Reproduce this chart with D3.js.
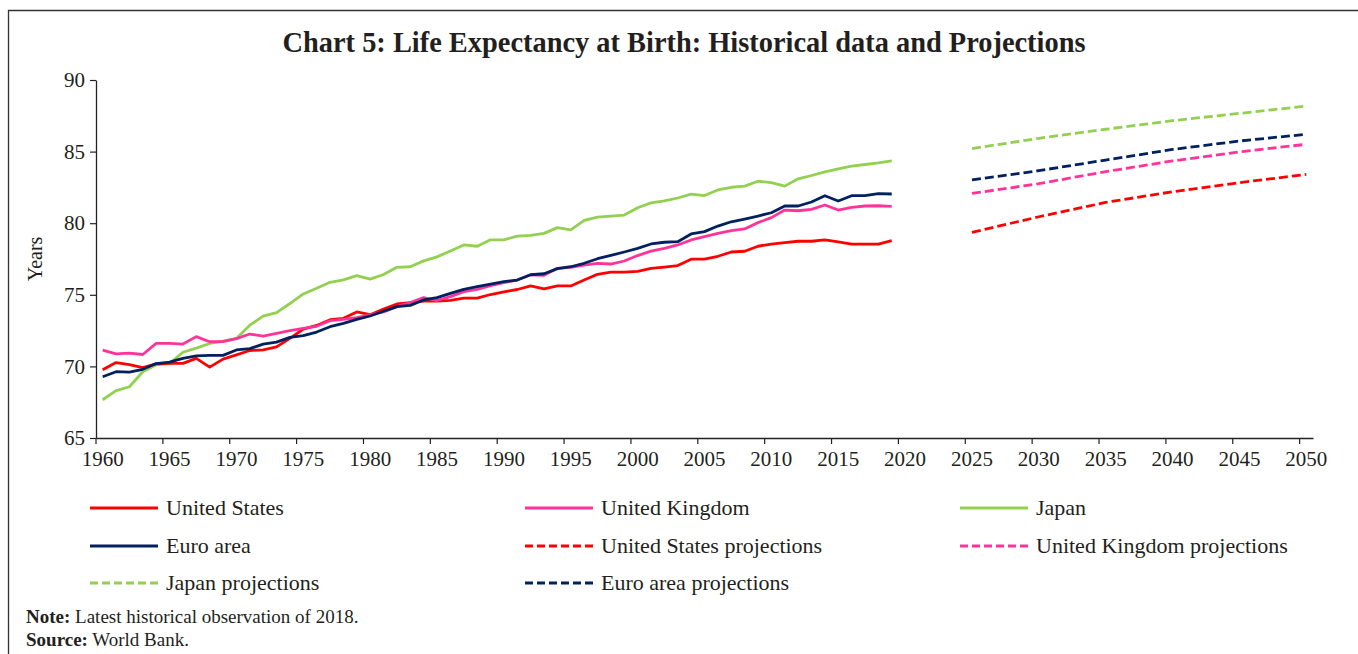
<!DOCTYPE html>
<html>
<head>
<meta charset="utf-8">
<script src="https://cdn.jsdelivr.net/npm/d3@7"></script>
<style>
  body { margin: 0; background: #fff; }
  text { font-family: "Liberation Serif", "Times New Roman", serif; fill: #231f20; }
</style>
</head>
<body>
<script>
// historical years 1960-2019
var years = d3.range(1960, 2020);
var projYears = [2025, 2030, 2035, 2040, 2045, 2050];
var yTicks = [65, 70, 75, 80, 85, 90];

var unitedStates = [69.77,70.27,70.12,69.92,70.17,70.21,70.21,70.56,69.95,70.51,
  70.81,71.11,71.16,71.36,71.96,72.60,72.86,73.26,73.36,73.80,
  73.61,74.01,74.36,74.46,74.56,74.56,74.61,74.77,74.77,75.02,
  75.21,75.37,75.62,75.42,75.62,75.62,76.03,76.43,76.58,76.58,
  76.64,76.84,76.94,77.04,77.49,77.49,77.69,77.99,78.04,78.39,
  78.54,78.64,78.74,78.74,78.84,78.69,78.54,78.54,78.54,78.79];

var unitedKingdom = [71.13,70.88,70.93,70.83,71.61,71.61,71.56,72.08,71.72,71.73,
  71.94,72.26,72.12,72.31,72.50,72.66,72.80,73.19,73.28,73.40,
  73.60,73.80,74.17,74.45,74.80,74.60,74.87,75.22,75.38,75.64,
  75.85,76.03,76.40,76.36,76.85,76.92,77.08,77.20,77.15,77.36,
  77.74,78.05,78.24,78.48,78.83,79.06,79.29,79.48,79.60,80.04,
  80.39,80.92,80.87,80.97,81.27,80.92,81.11,81.20,81.22,81.18];

var japan = [67.67,68.31,68.58,69.63,70.11,70.19,70.99,71.28,71.60,71.76,
  71.95,72.88,73.51,73.76,74.39,75.06,75.46,75.87,76.04,76.34,
  76.09,76.42,76.92,76.96,77.37,77.65,78.06,78.48,78.39,78.84,
  78.84,79.10,79.15,79.29,79.69,79.54,80.20,80.42,80.50,80.57,
  81.08,81.42,81.56,81.76,82.03,81.93,82.32,82.51,82.59,82.93,
  82.84,82.59,83.10,83.33,83.59,83.79,83.98,84.10,84.21,84.36];

var euroArea = [69.28,69.63,69.60,69.80,70.20,70.30,70.56,70.73,70.77,70.77,
  71.15,71.24,71.56,71.70,72.03,72.15,72.40,72.77,73.00,73.28,
  73.52,73.85,74.17,74.26,74.64,74.80,75.10,75.38,75.57,75.75,
  75.92,76.03,76.40,76.47,76.83,76.96,77.20,77.52,77.75,77.99,
  78.24,78.55,78.67,78.71,79.25,79.41,79.80,80.10,80.29,80.50,
  80.73,81.20,81.20,81.48,81.92,81.55,81.92,81.92,82.06,82.04];

var usProj = [79.36, 80.45, 81.45, 82.20, 82.83, 83.41];
var ukProj = [82.08, 82.76, 83.60, 84.35, 84.98, 85.51];
var japanProj = [85.21, 85.93, 86.56, 87.16, 87.67, 88.18];
var euroProj = [83.02, 83.67, 84.41, 85.15, 85.74, 86.21];

var colUS = "#ff0000", colUK = "#ff3399", colJP = "#92d050", colEA = "#002060";

var width = 1358, height = 654;
var plot = {left: 96, right: 1313, top: 80, bottom: 438};

var svg = d3.select("body").append("svg")
  .attr("width", width)
  .attr("height", height);

svg.append("rect").attr("width", width).attr("height", height).attr("fill", "#fff");

// frame (top + left only visible)
svg.append("path")
  .attr("d", "M" + width + ",10.5H8.5V" + height)
  .attr("fill", "none")
  .attr("stroke", "#333")
  .attr("stroke-width", 1.3);

// title
svg.append("text")
  .attr("x", 684)
  .attr("y", 52)
  .attr("text-anchor", "middle")
  .style("font-size", "28.4px")
  .style("font-weight", "bold")
  .text("Chart 5: Life Expectancy at Birth: Historical data and Projections");

// scales
var xScale = d3.scaleBand()
  .domain(d3.range(1960, 2051))
  .range([plot.left, plot.right])
  .padding(0);
var bw = xScale.bandwidth();

var yScale = d3.scaleLinear()
  .domain([65, 90])
  .range([plot.bottom, plot.top]);

// axes
var xAxis = svg.append("g")
  .attr("transform", "translate(0," + plot.bottom + ")")
  .call(d3.axisBottom(xScale)
    .tickValues(d3.range(1960, 2051, 5))
    .tickSize(6)
    .tickSizeOuter(0)
    .tickPadding(7));
xAxis.selectAll(".tick line").attr("x1", -bw / 2).attr("x2", -bw / 2);
xAxis.selectAll(".tick text")
  .style("font-size", "21px")
  .style("font-family", "'Liberation Serif', serif")
  .attr("fill", "#231f20");
xAxis.select(".domain").attr("stroke", "#222").attr("stroke-width", 1.3);
xAxis.selectAll(".tick line").attr("stroke", "#222").attr("stroke-width", 1.2);

var yAxis = svg.append("g")
  .attr("transform", "translate(" + plot.left + ",0)")
  .call(d3.axisLeft(yScale)
    .tickValues(yTicks)
    .tickSize(6)
    .tickSizeOuter(0)
    .tickPadding(5));
yAxis.selectAll(".tick text")
  .style("font-size", "21px")
  .style("font-family", "'Liberation Serif', serif")
  .attr("fill", "#231f20");
yAxis.select(".domain").attr("stroke", "#222").attr("stroke-width", 1.3);
yAxis.selectAll(".tick line").attr("stroke", "#222").attr("stroke-width", 1.2);

svg.append("text")
  .attr("transform", "translate(42," + 259 + ") rotate(-90)")
  .attr("text-anchor", "middle")
  .style("font-size", "20px")
  .text("Years");

// lines
var line = d3.line()
  .x(function(d) { return xScale(d[0]) + bw / 2; })
  .y(function(d) { return yScale(d[1]); });

function zipped(xs, vs) {
  return xs.map(function(x, i) { return [x, vs[i]]; });
}

var series = [
  {name: "United States", color: colUS, dash: false, x: years, v: unitedStates},
  {name: "United Kingdom", color: colUK, dash: false, x: years, v: unitedKingdom},
  {name: "Japan", color: colJP, dash: false, x: years, v: japan},
  {name: "Euro area", color: colEA, dash: false, x: years, v: euroArea},
  {name: "United States projections", color: colUS, dash: true, x: projYears, v: usProj},
  {name: "United Kingdom projections", color: colUK, dash: true, x: projYears, v: ukProj},
  {name: "Japan projections", color: colJP, dash: true, x: projYears, v: japanProj},
  {name: "Euro area projections", color: colEA, dash: true, x: projYears, v: euroProj}
];

// draw order: japan, us, uk, euro on top
var drawOrder = [2, 0, 1, 3, 6, 4, 5, 7];
drawOrder.forEach(function(i) {
  var s = series[i];
  svg.append("path")
    .datum(zipped(s.x, s.v))
    .attr("fill", "none")
    .attr("stroke", s.color)
    .attr("stroke-width", 2.8)
    .attr("stroke-linejoin", "round")
    .attr("stroke-dasharray", s.dash ? "9,4" : null)
    .attr("d", line);
});

// legend
var legX = [90, 525, 960], legY = [508, 546, 583];
series.forEach(function(s, i) {
  var cx = legX[i % 3], cy = legY[Math.floor(i / 3)];
  var g = svg.append("g").attr("transform", "translate(" + cx + "," + cy + ")");
  g.append("line")
    .attr("x1", 0).attr("x2", 68)
    .attr("y1", 0).attr("y2", 0)
    .attr("stroke", s.color)
    .attr("stroke-width", 2.8)
    .attr("stroke-dasharray", s.dash ? "8,4" : null);
  g.append("text")
    .attr("x", 76)
    .attr("y", 0)
    .attr("dy", "0.33em")
    .style("font-size", "22px")
    .text(s.name);
});

// notes
var note = svg.append("text").attr("x", 26).attr("y", 623).style("font-size", "19px");
note.append("tspan").style("font-weight", "bold").text("Note:");
note.append("tspan").text(" Latest historical observation of 2018.");
var src = svg.append("text").attr("x", 26).attr("y", 646).style("font-size", "19px");
src.append("tspan").style("font-weight", "bold").text("Source:");
src.append("tspan").text(" World Bank.");
</script>
</body>
</html>
